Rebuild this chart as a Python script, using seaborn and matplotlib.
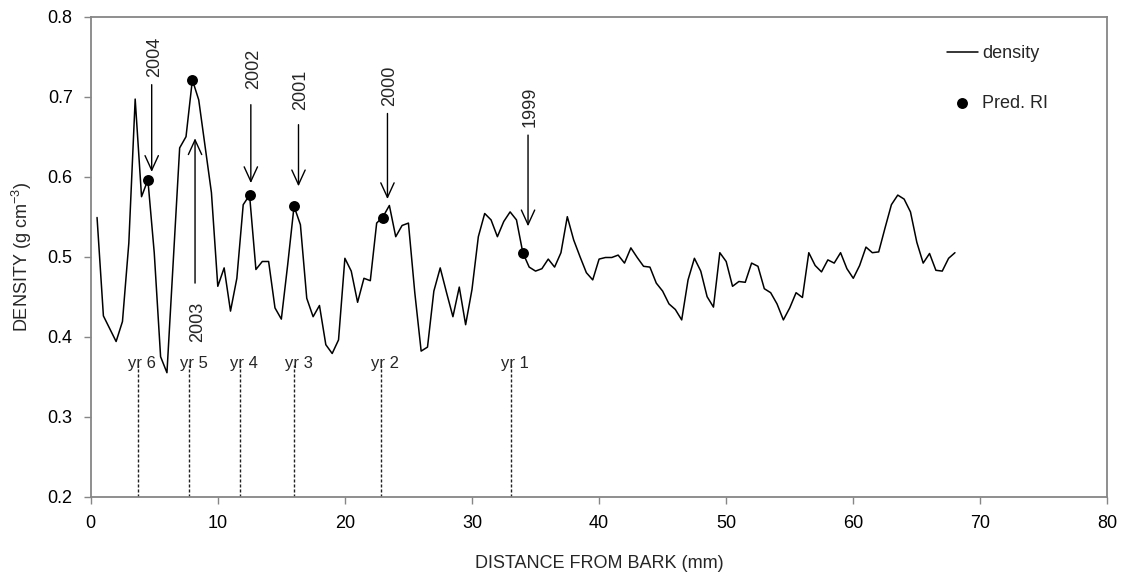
import matplotlib
matplotlib.use("Agg")
import matplotlib.pyplot as plt
import seaborn as sns
import pandas as pd

# ---------------- data ----------------
distance_mm = [
    0.5, 1.0, 1.5, 2.0, 2.5, 3.0, 3.5, 4.0, 4.5, 5.0,
    5.5, 6.0, 6.5, 7.0, 7.5, 8.0, 8.5, 9.0, 9.5, 10.0,
    10.5, 11.0, 11.5, 12.0, 12.5, 13.0, 13.5, 14.0, 14.5, 15.0,
    15.5, 16.0, 16.5, 17.0, 17.5, 18.0, 18.5, 19.0, 19.5, 20.0,
    20.5, 21.0, 21.5, 22.0, 22.5, 23.0, 23.5, 24.0, 24.5, 25.0,
    25.5, 26.0, 26.5, 27.0, 27.5, 28.0, 28.5, 29.0, 29.5, 30.0,
    30.5, 31.0, 31.5, 32.0, 32.5, 33.0, 33.5, 34.0, 34.5, 35.0,
    35.5, 36.0, 36.5, 37.0, 37.5, 38.0, 38.5, 39.0, 39.5, 40.0,
    40.5, 41.0, 41.5, 42.0, 42.5, 43.0, 43.5, 44.0, 44.5, 45.0,
    45.5, 46.0, 46.5, 47.0, 47.5, 48.0, 48.5, 49.0, 49.5, 50.0,
    50.5, 51.0, 51.5, 52.0, 52.5, 53.0, 53.5, 54.0, 54.5, 55.0,
    55.5, 56.0, 56.5, 57.0, 57.5, 58.0, 58.5, 59.0, 59.5, 60.0,
    60.5, 61.0, 61.5, 62.0, 62.5, 63.0, 63.5, 64.0, 64.5, 65.0,
    65.5, 66.0, 66.5, 67.0, 67.5, 68.0,
]
density = [
    0.549, 0.426, 0.410, 0.394, 0.419, 0.517, 0.697, 0.575, 0.596, 0.505,
    0.375, 0.355, 0.496, 0.636, 0.650, 0.721, 0.696, 0.638, 0.580, 0.463,
    0.486, 0.432, 0.473, 0.565, 0.577, 0.484, 0.494, 0.494, 0.436, 0.422,
    0.490, 0.563, 0.540, 0.448, 0.425, 0.439, 0.390, 0.379, 0.396, 0.498,
    0.482, 0.443, 0.473, 0.470, 0.542, 0.550, 0.564, 0.525, 0.539, 0.542,
    0.455, 0.382, 0.387, 0.457, 0.486, 0.455, 0.425, 0.462, 0.415, 0.459,
    0.525, 0.554, 0.546, 0.525, 0.544, 0.556, 0.546, 0.505, 0.487, 0.482,
    0.485, 0.497, 0.487, 0.505, 0.550, 0.521, 0.500, 0.480, 0.471, 0.497,
    0.499, 0.499, 0.502, 0.492, 0.511, 0.499, 0.488, 0.487, 0.467, 0.457,
    0.441, 0.434, 0.421, 0.471, 0.498, 0.482, 0.450, 0.437, 0.505, 0.494,
    0.463, 0.469, 0.468, 0.492, 0.488, 0.460, 0.455, 0.441, 0.421, 0.436,
    0.455, 0.449, 0.505, 0.489, 0.481, 0.496, 0.492, 0.505, 0.485, 0.473,
    0.489, 0.512, 0.505, 0.506, 0.536, 0.565, 0.577, 0.572, 0.556, 0.518,
    0.492, 0.504, 0.483, 0.482, 0.498, 0.505,
]

ri_distance = [4.5, 8.0, 12.5, 16.0, 23.0, 34.0]
ri_density = [0.596, 0.721, 0.577, 0.563, 0.548, 0.505]
ri_years = ["2004", "2003", "2002", "2001", "2000", "1999"]

year_bounds = [3.70, 7.77, 11.76, 16.03, 22.85, 33.07]
year_labels = ["yr 6", "yr 5", "yr 4", "yr 3", "yr 2", "yr 1"]

# annotation geometry (data coordinates)
arrow_x = [4.80, 8.21, 12.60, 16.35, 23.35, 34.41]
arrow_tail = [0.715, 0.467, 0.690, 0.665, 0.679, 0.652]
arrow_head = [0.606, 0.648, 0.592, 0.588, 0.572, 0.538]
year_text_y = [0.750, 0.418, 0.735, 0.708, 0.713, 0.687]

# ---------------- style ----------------
sns.set_style("ticks")
plt.rcParams["font.family"] = ["Liberation Sans", "DejaVu Sans"]
plt.rcParams["mathtext.fontset"] = "custom"
plt.rcParams["mathtext.rm"] = "Liberation Sans"
plt.rcParams["mathtext.it"] = "Liberation Sans:italic"

spine_col = "#868686"
fs = 13

fig = plt.figure(figsize=(11.28, 5.83), dpi=100)
ax = fig.add_axes([0.0804, 0.148, 0.9014, 0.8234])

df = pd.DataFrame({"distance": distance_mm, "density": density})
ri = pd.DataFrame({"distance": ri_distance, "density": ri_density})

sns.lineplot(data=df, x="distance", y="density", color="black", lw=1.1,
             ax=ax, label="density", zorder=2)
sns.scatterplot(data=ri, x="distance", y="density", color="black", s=62,
                linewidth=0, ax=ax, label="Pred. RI", zorder=3)

# year boundary dashed lines and labels
ax.vlines(year_bounds, 0.2, 0.365, colors="#222222",
          linestyles=(0, (2.2, 1.4)), lw=1.0, zorder=1)
for xb, lab in zip(year_bounds, year_labels):
    ax.annotate(lab, (xb, 0.367), xytext=(3, 0), textcoords="offset points",
                ha="center", va="center", fontsize=12)

# arrows and year annotations
for xa, yt, yh, ty, yr in zip(arrow_x, arrow_tail, arrow_head, year_text_y, ri_years):
    ax.annotate("", xy=(xa, yh), xytext=(xa, yt),
                arrowprops=dict(arrowstyle="->,head_length=1.05,head_width=0.48",
                                color="black", lw=1.0, shrinkA=0, shrinkB=0,
                                mutation_scale=10))
    ax.text(xa + 0.2, ty, yr, rotation=90, ha="center", va="center", fontsize=fs)

ax.set_xlim(0, 80)
ax.set_ylim(0.2, 0.8)
ax.set_xticks(list(range(0, 81, 10)))
ax.set_yticks([0.2, 0.3, 0.4, 0.5, 0.6, 0.7, 0.8])
ax.set_yticklabels(["0.2", "0.3", "0.4", "0.5", "0.6", "0.7", "0.8"])

ax.set_xlabel("DISTANCE FROM BARK (mm)", fontsize=fs, labelpad=17)
ax.set_ylabel("DENSITY (g cm$^{-3}$)", fontsize=fs, labelpad=10)

for s in ax.spines.values():
    s.set_visible(True)
    s.set_color(spine_col)
    s.set_linewidth(1.3)
ax.tick_params(axis="both", direction="out", length=5, width=1.0,
               color=spine_col, labelsize=fs, labelcolor="black")
ax.tick_params(axis="x", pad=8)
ax.tick_params(axis="y", pad=8)

ax.legend(loc="upper left", bbox_to_anchor=(0.835, 0.955), frameon=False,
          fontsize=fs, labelspacing=1.8, handlelength=1.7, handletextpad=0.25,
          borderaxespad=0)

fig.savefig("out.png", dpi=100)
